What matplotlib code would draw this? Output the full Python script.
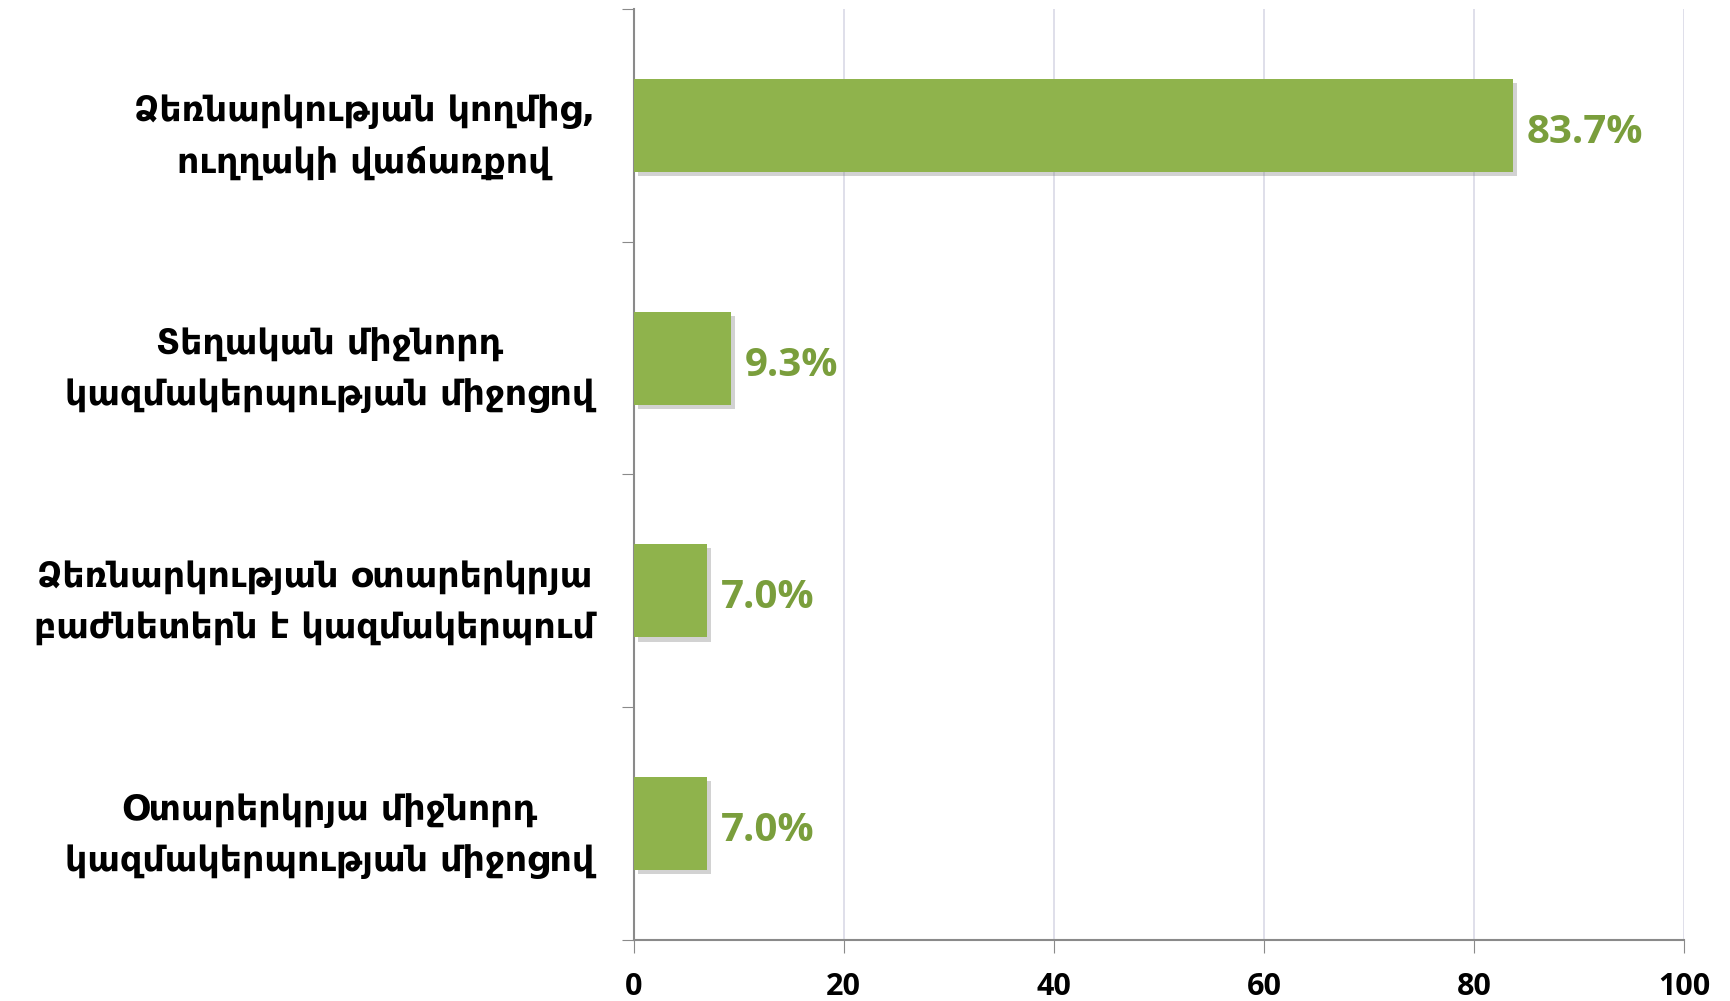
import matplotlib.pyplot as plt
import matplotlib.patheffects as pe
import numpy as np

categories = ['Ձեռնարկության կողմից,\nուղղակի վաճառքով',
              'Տեղական միջնորդ\nկազմակերպության միջոցով',
              'Ձեռնարկության օտարերկրյա\nբաժնետերն է կազմակերպում',
              'Օտարերկրյա միջնորդ\nկազմակերպության միջոցով']
values = [83.7, 9.3, 7.0, 7.0]
xticks = [0, 20, 40, 60, 80, 100]

bar_color = '#8FB34C'
label_color = '#7A9E3C'
axis_color = '#8A8A8A'

fig = plt.figure(figsize=(17.31, 10.01), dpi=100)
ax = fig.add_axes([0.366, 0.061, 0.607, 0.930])

y = np.arange(len(categories))
bars = ax.barh(y, values, height=0.4, color=bar_color, zorder=3)
for b in bars:
    b.set_path_effects([pe.SimplePatchShadow(offset=(3, -3), shadow_rgbFace='#808080', alpha=0.35),
                        pe.Normal()])

for yi, v in zip(y, values):
    ax.annotate(f'{v:.1f}%', (v, yi), xytext=(10, -5), textcoords='offset points',
                va='center', ha='left', fontsize=29, fontweight='bold',
                color=label_color, family='Open Sans')

ax.set_xlim(0, 100)
ax.set_ylim(len(categories) - 0.5, -0.5)
ax.set_xticks(xticks)
ax.set_xticklabels([str(t) for t in xticks], fontsize=22, fontweight='bold', family='Open Sans')
ax.tick_params(axis='x', length=9, color=axis_color, pad=14)

ax.set_yticks(np.arange(len(categories) + 1) - 0.5)
ax.set_yticklabels([])
ax.tick_params(axis='y', which='major', length=9, color=axis_color)
ax.set_yticks(y, minor=True)
ax.set_yticklabels(categories, minor=True, fontsize=25, fontweight='bold',
                   family='DejaVu Sans', linespacing=1.6)
ax.tick_params(axis='y', which='minor', length=0, pad=28)
for lbl in ax.get_yticklabels(minor=True):
    lbl.set_multialignment('center')

ax.grid(axis='x', color='#D9D9E6', linewidth=1.2, zorder=0)
ax.set_axisbelow(True)
for s in ['top', 'right']:
    ax.spines[s].set_visible(False)
for s in ['left', 'bottom']:
    ax.spines[s].set_color(axis_color)
    ax.spines[s].set_linewidth(1.5)

fig.savefig('out.png', dpi=100)
